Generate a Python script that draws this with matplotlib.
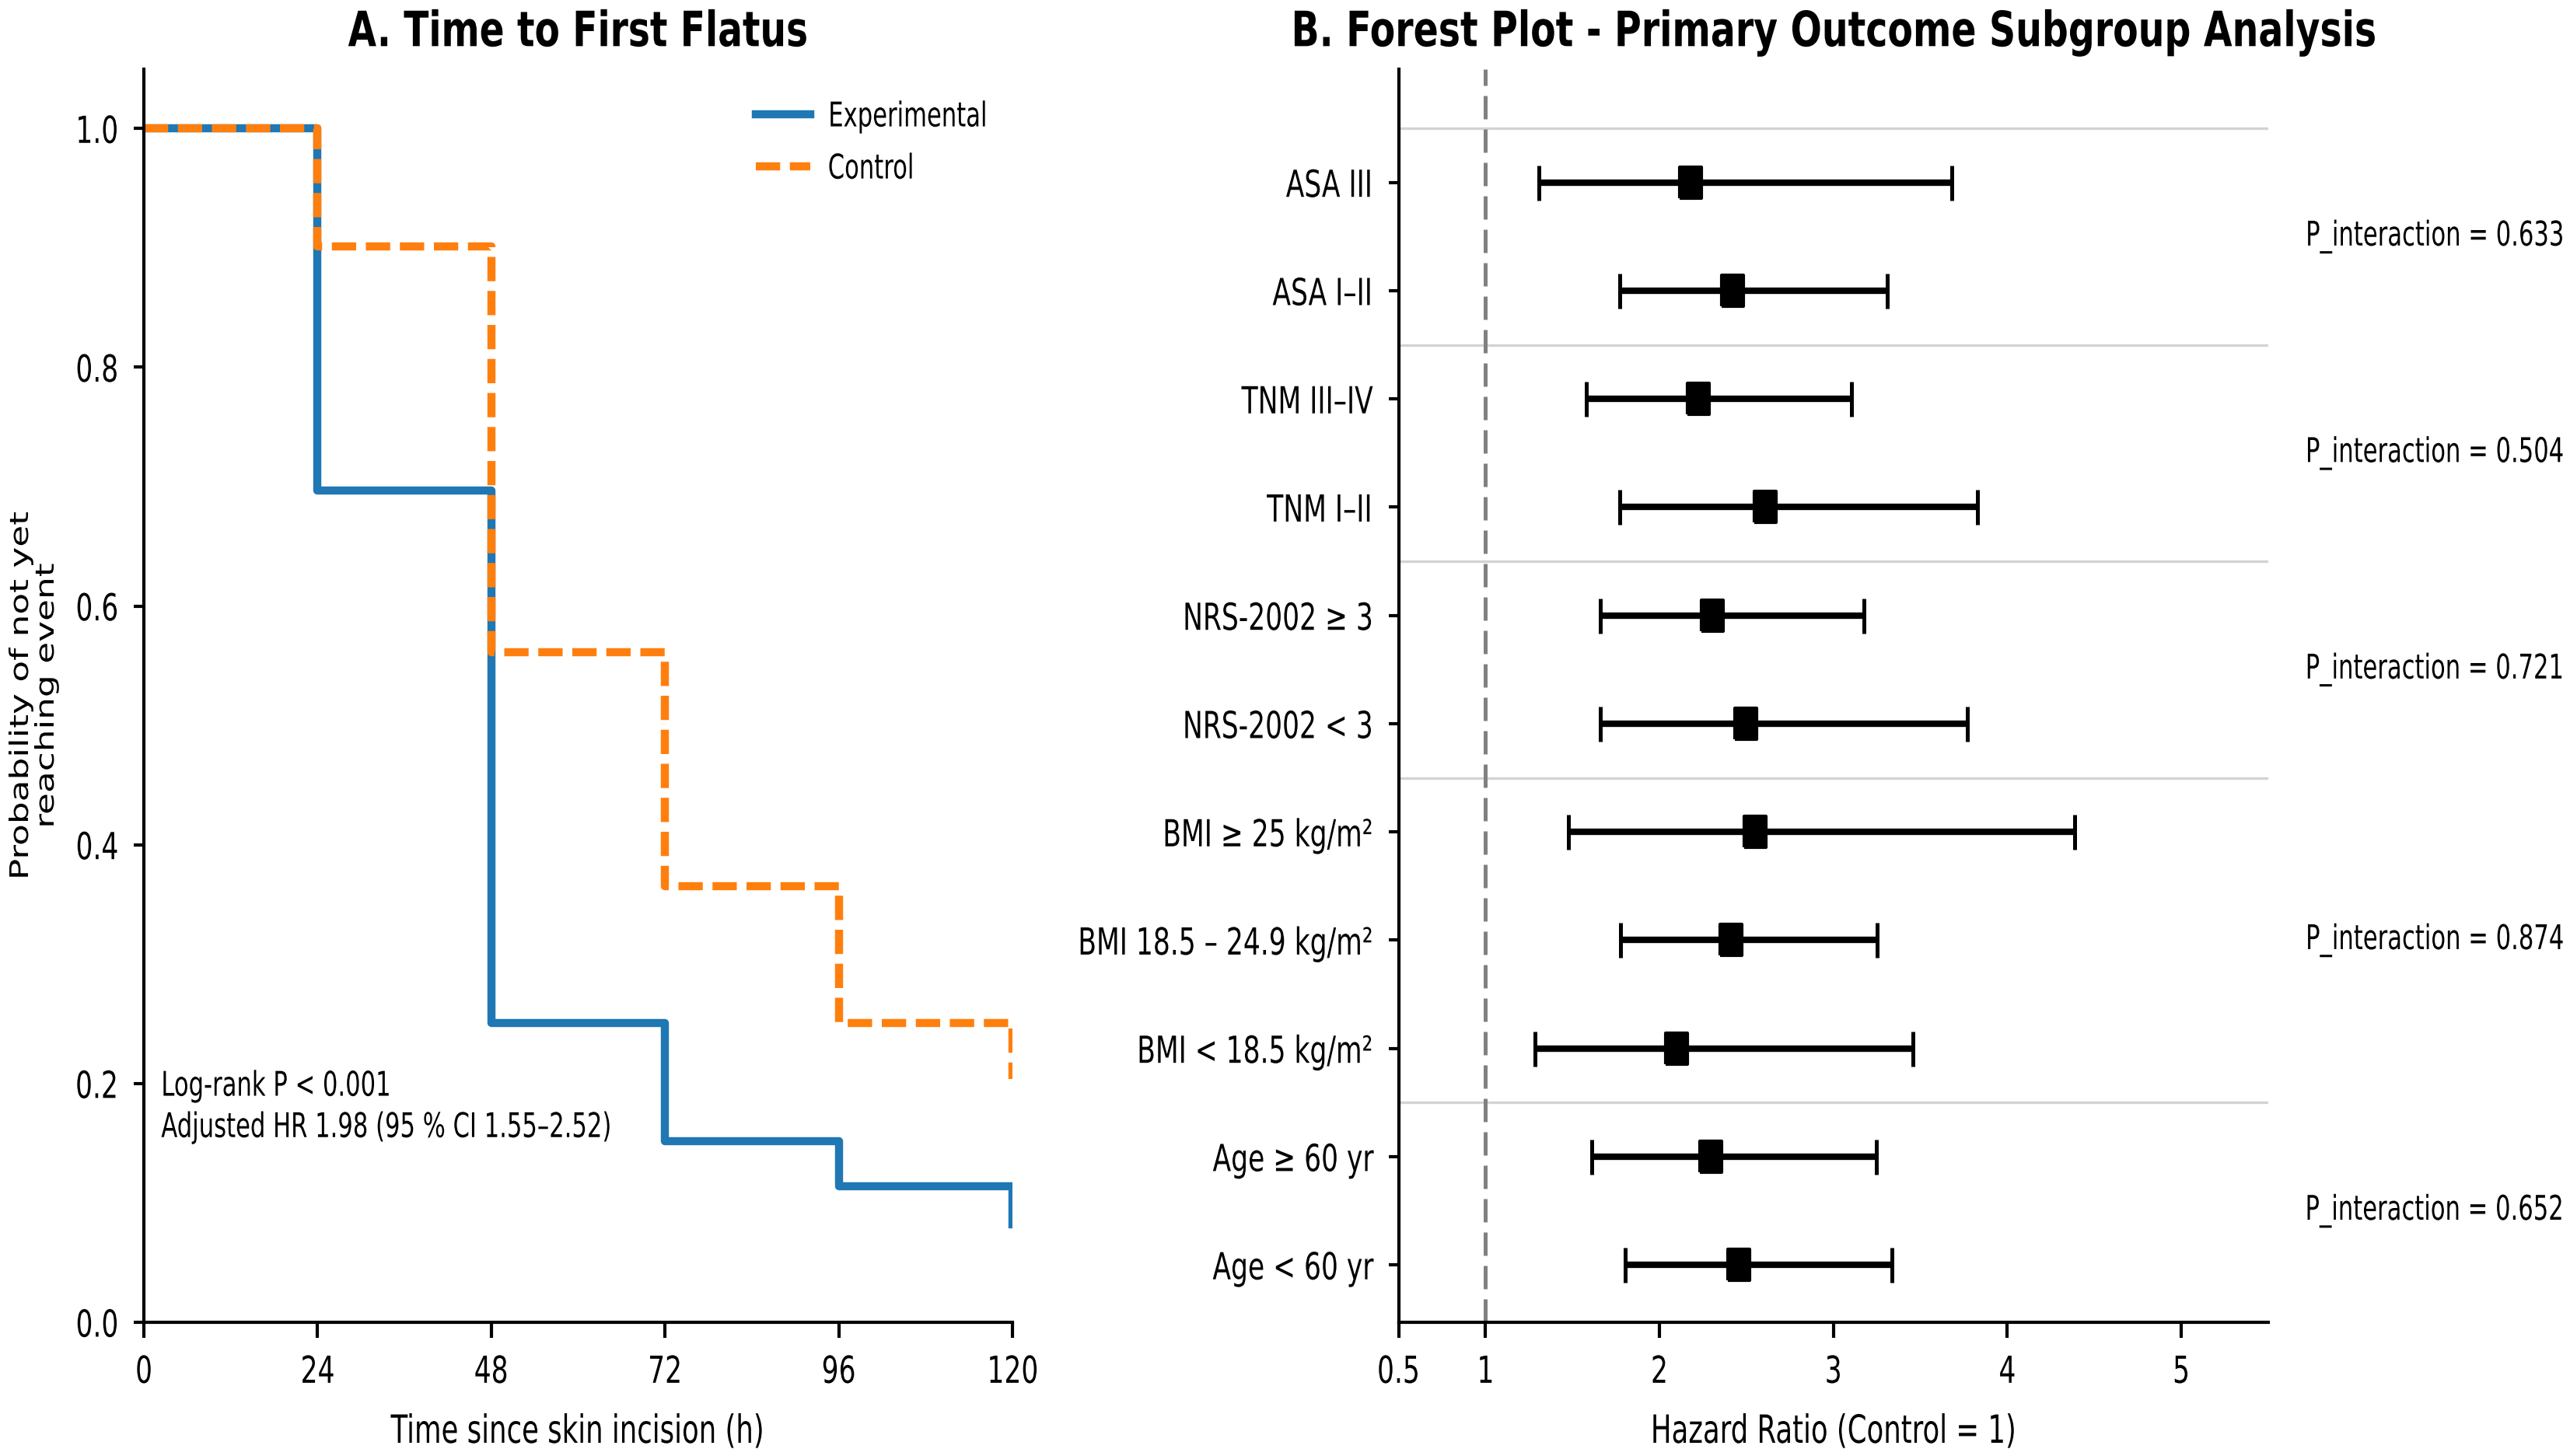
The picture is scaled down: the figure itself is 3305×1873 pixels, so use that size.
import matplotlib
matplotlib.use("Agg")
import matplotlib.pyplot as plt
import numpy as np
from matplotlib.patheffects import AbstractPathEffect
from matplotlib.transforms import Affine2D

plt.rcParams['font.family'] = ['DejaVu Sans']

# ---------------- data ----------------
km_times = [0, 24, 48, 72, 96, 120]
km_experimental = [1.0, 0.697, 0.251, 0.152, 0.114, 0.082]
km_control = [1.0, 0.901, 0.561, 0.365, 0.251, 0.204]
km_xticks = [0, 24, 48, 72, 96, 120]
km_yticks = [0.0, 0.2, 0.4, 0.6, 0.8, 1.0]

# forest rows, bottom to top
subgroups = ["Age < 60 yr", "Age \u2265 60 yr", "BMI < 18.5 kg/m\u00b2",
             "BMI 18.5 \u2013 24.9 kg/m\u00b2", "BMI \u2265 25 kg/m\u00b2",
             "NRS-2002 < 3", "NRS-2002 \u2265 3", "TNM I\u2013II", "TNM III\u2013IV",
             "ASA I\u2013II", "ASA III"]
hr = [2.456, 2.296, 2.096, 2.411, 2.548, 2.497, 2.302, 2.606, 2.225, 2.420, 2.180]
ci_low = [1.805, 1.610, 1.284, 1.776, 1.478, 1.661, 1.661, 1.770, 1.580, 1.770, 1.305]
ci_high = [3.338, 3.246, 3.458, 3.252, 4.385, 3.772, 3.177, 3.830, 3.105, 3.310, 3.680]
group_rows = [[0, 1], [2, 3, 4], [5, 6], [7, 8], [9, 10]]
p_interaction = ["0.652", "0.874", "0.721", "0.504", "0.633"]
forest_xticks = [0.5, 1, 2, 3, 4, 5]
forest_xticklabels = ["0.5", "1", "2", "3", "4", "5"]


# ---- horizontal squeeze of rendered glyphs (text stays real Text) ----
class Squeeze(AbstractPathEffect):
    def __init__(self, sx=0.71, mode="center", artist=None, target=None, sy=1.0):
        super().__init__()
        self.sx, self.mode, self.artist, self.target = sx, mode, artist, target
        self.sy = sy

    def draw_path(self, renderer, gc, tpath, affine, rgbFace=None):
        ext = tpath.get_extents(affine)
        sx = self.sx
        if self.target is not None and ext.width > 0:
            sx = self.target / ext.width
        if self.artist is not None:
            bb = self.artist.get_window_extent()
            lo, hi = bb.x0, bb.x1
            yc = 0.5 * (bb.y0 + bb.y1)
        else:
            lo, hi = ext.x0, ext.x1
            yc = 0.5 * (ext.y0 + ext.y1)
        if self.mode == "left":
            x0 = lo
        elif self.mode == "right":
            x0 = hi
        else:
            x0 = 0.5 * (lo + hi)
        aff = affine + Affine2D().translate(-x0, -yc).scale(sx, self.sy).translate(x0, yc)
        renderer.draw_path(gc, tpath, aff, rgbFace)


def squeeze(t, mode="center", sx=0.71, artist=False, target=None, sy=1.0):
    t.set_path_effects([Squeeze(sx, mode, t if artist else None, target, sy)])


# ---------------- figure ----------------
W, H = 3305, 1873
fig = plt.figure(figsize=(W / 300, H / 300), dpi=300)

axL = fig.add_axes([185 / W, 172 / H, 1117 / W, 1612.5 / H])
axR = fig.add_axes([1798.5 / W, 172 / H, 1118.5 / W, 1612.5 / H])

blue = "#1f77b4"
orange = "#ff7f0e"

# ---- panel A ----
axL.step(km_times, km_experimental, where="post", color=blue, lw=2.5,
         label="Experimental")
axL.step(km_times, km_control, where="post", color=orange, lw=2.5,
         linestyle=(0, (3.0, 1.2)), label="Control")
axL.set_xlim(0, 120)
axL.set_ylim(0, 1.05)
axL.set_xticks(km_xticks)
axL.set_yticks(km_yticks)
axL.set_yticklabels(["%.1f" % v for v in km_yticks])
tA = axL.set_title("A. Time to First Flatus", fontsize=15, fontweight="bold", pad=7)
squeeze(tA, "center", target=589)
xlA = axL.set_xlabel("Time since skin incision (h)", fontsize=12, labelpad=7)
squeeze(xlA)
ylA = axL.set_ylabel("Probability of not yet\nreaching event", fontsize=7.9,
                     linespacing=1.0)
axL.yaxis.set_label_coords(-0.0976, 0.5)
squeeze(ylA, "center", sx=1.0, sy=1.38, artist=True)
leg = axL.legend(loc="upper left", bbox_to_anchor=(0.689, 0.986), frameon=False,
                 fontsize=10.5, handlelength=1.6, handletextpad=0.5,
                 borderaxespad=0, labelspacing=0.55)
for t in leg.get_texts():
    squeeze(t, "left", sx=0.70)
ann = axL.text(0.02, 0.172,
               "Log-rank P < 0.001\nAdjusted HR 1.98 (95 % CI 1.55\u20132.52)",
               transform=axL.transAxes, fontsize=10.5, va="center", ha="left",
               linespacing=1.3)
squeeze(ann, "left", sx=0.70, artist=True)

# ---- panel B ----
ypos = np.arange(len(subgroups))
for rows in group_rows:
    axR.axhline(max(rows) + 0.5, color="lightgray", lw=0.8, zorder=0)
axR.axvline(1, color="gray", lw=1.2, linestyle=(0, (6, 2.6)), zorder=1)
xerr = [np.array(hr) - np.array(ci_low), np.array(ci_high) - np.array(hr)]
sq = [(-0.36, -0.5), (0.36, -0.5), (0.36, 0.5), (-0.36, 0.5), (-0.36, -0.5)]
axR.errorbar(hr, ypos, xerr=xerr, fmt="none", ecolor="black", elinewidth=2.0,
             capsize=5.4, capthick=1.2, zorder=2)
axR.plot(hr, ypos, linestyle="none", marker=sq, markersize=9.5,
         color="black", zorder=3)
for rows, p in zip(group_rows, p_interaction):
    tp = axR.text(1.3406, np.mean(rows), "P_interaction = " + p, fontsize=10.5,
                  ha="right", va="center", clip_on=False,
                  transform=axR.get_yaxis_transform())
    squeeze(tp, "right", sx=0.70)
axR.set_xlim(0.5, 5.5)
axR.set_ylim(-0.53, 11.05)
axR.set_xticks(forest_xticks)
axR.set_xticklabels(forest_xticklabels)
axR.set_yticks(ypos)
axR.set_yticklabels(subgroups)
xlB = axR.set_xlabel("Hazard Ratio (Control = 1)", fontsize=12, labelpad=7)
squeeze(xlB)
tB = axR.set_title("B. Forest Plot - Primary Outcome Subgroup Analysis",
                   fontsize=15, fontweight="bold", pad=7)
squeeze(tB, "center", target=1389)

for ax in (axL, axR):
    ax.spines["top"].set_visible(False)
    ax.spines["right"].set_visible(False)
    for s in ("left", "bottom"):
        ax.spines[s].set_linewidth(1.0)
    ax.tick_params(axis="x", labelsize=11.5, length=4.8, pad=5.0, width=1.0)
    ax.tick_params(axis="y", labelsize=11.5, length=3.2, pad=4.5, width=1.0)
    for t in ax.get_xticklabels():
        squeeze(t, "center", sx=0.72)
    for t in ax.get_yticklabels():
        squeeze(t, "right", sx=0.72)

fig.savefig("out.png", dpi=300)
